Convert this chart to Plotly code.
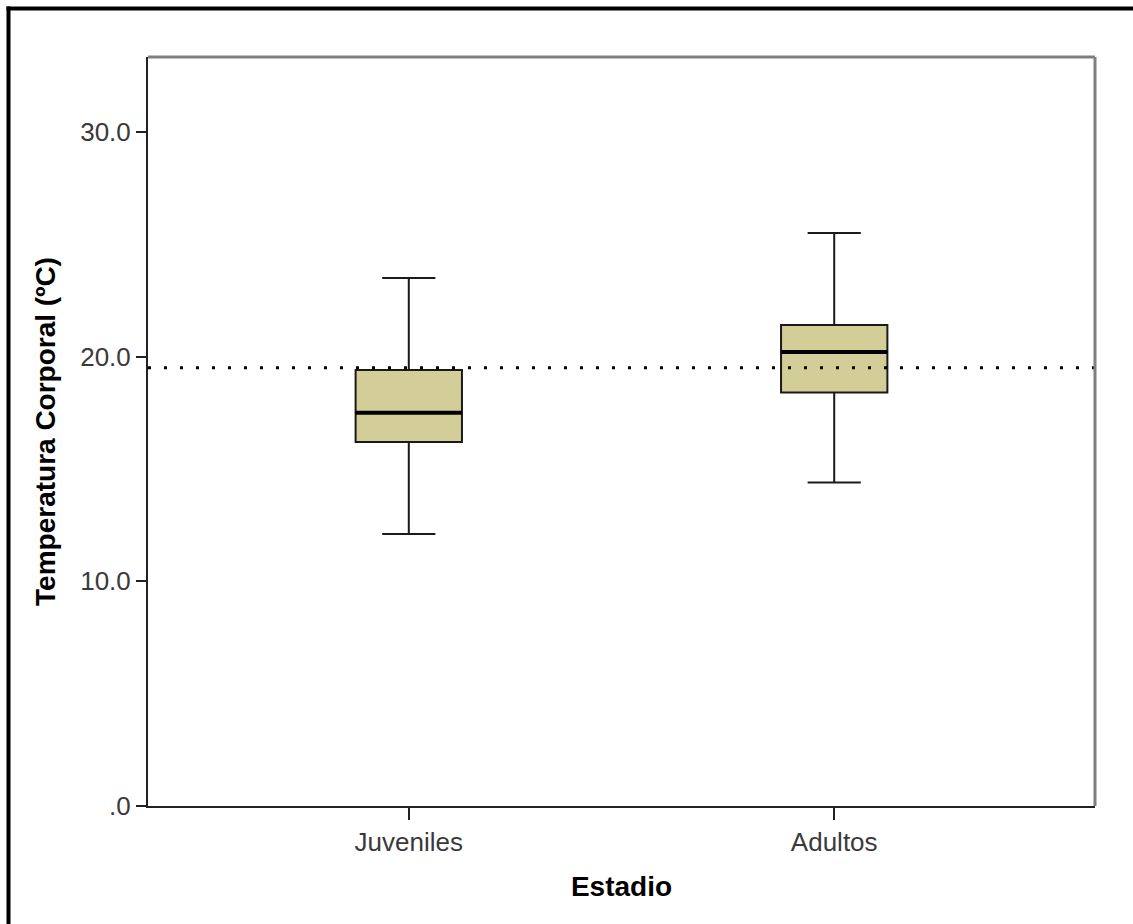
import plotly.graph_objects as go

# ---- data ----
categories = ["Juveniles", "Adultos"]
positions = [0, 1]
lower_whisker = [12.1, 14.4]
q1 = [16.2, 18.4]
median = [17.5, 20.2]
q3 = [19.4, 21.4]
upper_whisker = [23.5, 25.5]
reference_value = 19.5
y_tickvals = [0, 10, 20, 30]
y_ticktext = [".0", "10.0", "20.0", "30.0"]

box_width = 0.25
fill_color = "#D3CE97"
font_family = "Liberation Sans, Arial, sans-serif"

fig = go.Figure()

fig.add_trace(go.Box(
    x=positions,
    q1=q1, median=median, q3=q3,
    lowerfence=lower_whisker, upperfence=upper_whisker,
    width=box_width,
    whiskerwidth=0.5,
    fillcolor=fill_color,
    line=dict(color="#1a1a1a", width=2),
    boxpoints=False,
    hoverinfo="skip",
    showlegend=False,
))

# thick median lines
for p, m in zip(positions, median):
    fig.add_trace(go.Scatter(
        x=[p - box_width / 2, p + box_width / 2], y=[m, m],
        mode="lines", line=dict(color="black", width=4),
        hoverinfo="skip", showlegend=False,
    ))

# dotted reference line across plot
fig.add_shape(type="line", xref="paper", yref="y",
              x0=0, x1=1, y0=reference_value, y1=reference_value,
              line=dict(color="black", width=3, dash="3px,13px"))

# top and right plot borders (gray)
fig.add_shape(type="line", xref="paper", yref="paper", x0=0, x1=1, y0=1, y1=1,
              line=dict(color="#7f7f7f", width=3))
fig.add_shape(type="line", xref="paper", yref="paper", x0=1, x1=1, y0=0, y1=1,
              line=dict(color="#7f7f7f", width=3))

# outer frame (left and top, as in reference)
W, H = 1133, 924
ml, mr, mt, mb = 148, 38, 57, 118
pw, ph = W - ml - mr, H - mt - mb
def px_to_paper_x(px):
    return (px - ml) / pw
def px_to_paper_y(py):
    return 1 - (py - mt) / ph
fig.add_shape(type="line", xref="paper", yref="paper",
              x0=px_to_paper_x(8.5), x1=px_to_paper_x(8.5),
              y0=px_to_paper_y(6.5), y1=px_to_paper_y(H + 5),
              line=dict(color="black", width=4))
fig.add_shape(type="line", xref="paper", yref="paper",
              x0=px_to_paper_x(6.5), x1=px_to_paper_x(W + 5),
              y0=px_to_paper_y(8.5), y1=px_to_paper_y(8.5),
              line=dict(color="black", width=4))

fig.update_layout(
    width=W, height=H,
    margin=dict(l=ml, r=mr, t=mt, b=mb, pad=0),
    paper_bgcolor="white", plot_bgcolor="white",
    font=dict(family=font_family, color="#3a3a3a"),
    xaxis=dict(
        range=[-0.613, 1.613],
        tickvals=positions, ticktext=categories,
        ticks="outside", ticklen=12, tickwidth=2, tickcolor="#222222",
        showline=True, linecolor="#222222", linewidth=2,
        showgrid=False, zeroline=False,
        tickfont=dict(size=26, color="#3a3a3a"),
        title=dict(text="<b>Estadio</b>", font=dict(size=28, color="black"), standoff=20),
    ),
    yaxis=dict(
        range=[0, 33.33],
        tickvals=y_tickvals, ticktext=y_ticktext,
        ticks="outside", ticklen=10, tickwidth=2, tickcolor="#222222",
        showline=True, linecolor="#222222", linewidth=2,
        showgrid=False, zeroline=False,
        tickfont=dict(size=26, color="#3a3a3a"),
        title=dict(text="<b>Temperatura Corporal (ºC)</b>", font=dict(size=28, color="black"), standoff=16),
    ),
)

fig.write_html("out.html")
